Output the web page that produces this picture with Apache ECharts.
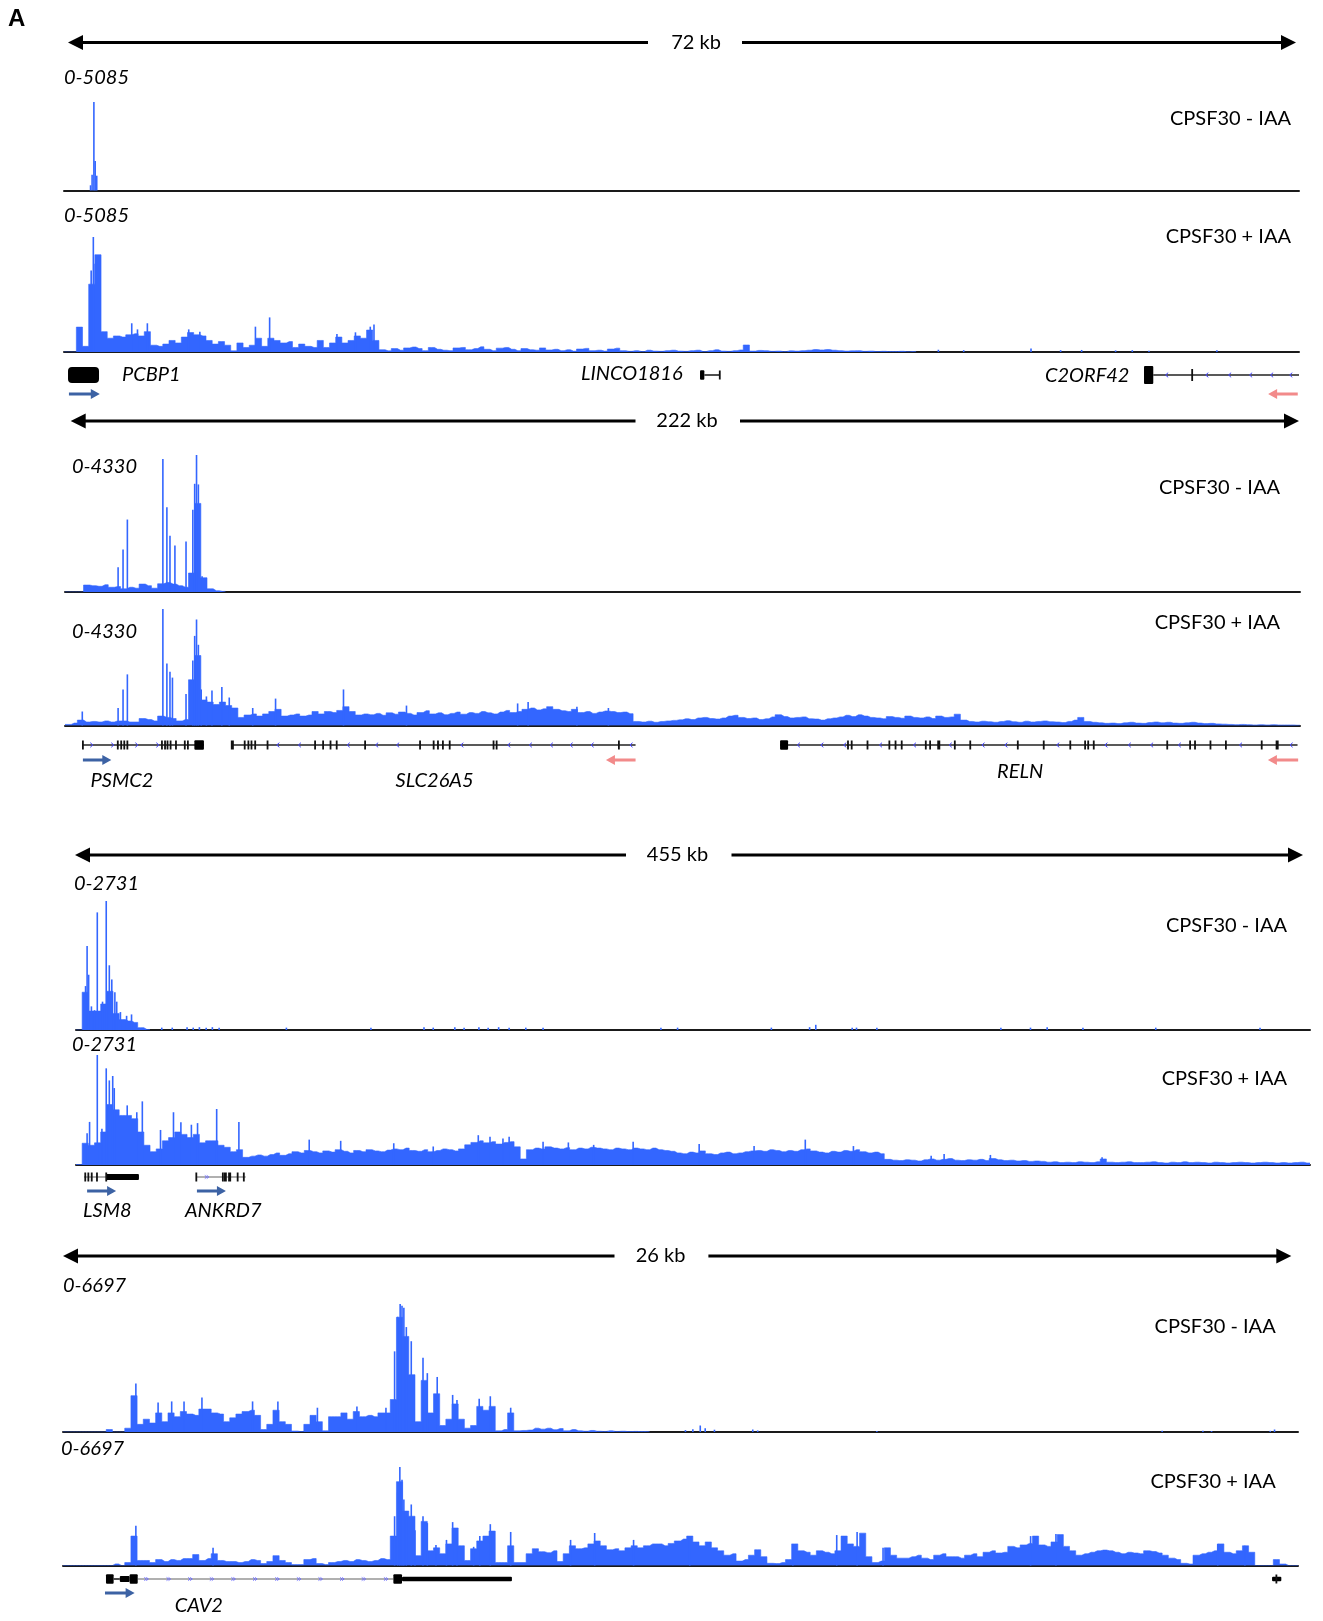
<!DOCTYPE html>
<html><head><meta charset="utf-8">
<script src="https://cdn.jsdelivr.net/npm/echarts@6/dist/echarts.min.js"></script>
<style>html,body{margin:0;padding:0;background:#fff;}#c{width:1323px;height:1621px;}</style>
</head><body><div id="c"></div>
<script>
// ---------- DATA ----------
const BINS = 200;                       // each window is split into 200 equal bins
const panelSpans = ['72 kb', '222 kb', '455 kb', '26 kb'];
const dataRanges = [5085, 4330, 2731, 6697];
const sampleNames = ['CPSF30 - IAA', 'CPSF30 + IAA'];

// Panel 1 (72 kb)
const t1Dense = [];
const t1Spikes = [[4.3,300],[4.55,900],[4.84,5085],[5.05,1700],[5.3,850]];
const t2Dense = [0,0,1100,250,3000,4300,900,610,710,660,760,810,710,900,300,250,350,510,400,660,860,760,710,510,350,460,300,50,400,200,300,610,250,610,510,400,460,200,350,250,200,510,200,400,660,400,510,710,610,970,510,
100,50,150,80,180,220,150,60,200,120,80,60,180,200,100,150,230,120,60,170,200,120,60,150,100,80,180,90,120,60,100,40,130,160,60,80,40,130,170,60,30,60,20,80,40,30,60,
80,40,30,60,80,20,60,100,40,30,60,90,310,40,70,60,30,40,20,50,40,60,80,110,90,110,80,60,40,50,60,30,40,20,30,20,20,30,10,20];
const t2Spikes = [[4.4,3600],[4.75,5085],[5.05,3900],[10.97,1270],[11.9,1000],[13.5,1270],[20.2,1000],[22,900],[31,1120],[33.3,1530],[44.2,800],[47.2,870],[49.6,1120],[50.2,1220],
[141.6,100],[145.7,80],[156.6,150],[161.4,80],[164.8,90],[170.3,70],[173,80],[175.7,60],[186.7,80]];

// Panel 2 (222 kb)
const t3Dense = [0,0,0,220,200,180,230,150,170,100,150,120,250,200,120,260,300,250,200,150,600,2800,450,100,40,20];
const t3Spikes = [[8.6,780],[9.4,1340],[10.1,2290],[15.85,4200],[16.5,2680],[17.0,1780],[17.8,1470],[19.6,1600],[20.7,2600],[21.0,3420],[21.3,4330],[21.6,3400],[22.2,500]];
const t4Dense = [40,90,200,130,150,130,170,130,170,170,
130,130,260,220,170,350,300,260,170,220,
1700,2600,950,870,780,870,740,650,300,390,
430,350,430,520,600,350,390,430,350,390,
520,430,520,480,560,700,520,390,430,400,
450,380,470,420,500,450,390,480,550,430,
470,400,450,500,420,480,450,520,470,430,
500,560,480,520,600,650,580,620,700,600,
550,520,600,480,520,450,500,540,520,480,
500,440,150,130,160,120,150,
170,190,210,250,220,280,300,260,240,280,350,380,300,260,280,220,250,320,400,330,280,300,320,250,240,200,250,280,320,380,330,400,350,300,280,250,330,300,270,350,300,280,320,260,350,300,320,420,200,
150,130,160,140,120,150,180,140,120,160,130,150,170,140,130,110,150,200,300,150,120,100,
80,90,70,100,120,90,80,110,130,100,120,90,80,100,120,90,70,80,60,50,
40,30,40,30,20,30,20,30,20,20,20,10];
const t4Spikes = [[2.8,520],[8.6,650],[9.4,1340],[10.1,1900],[15.85,4330],[16.5,2300],[17.0,2000],[17.4,1780],[19.6,1170],[20.7,2420],[21.0,3330],[21.3,3940],[21.6,3000],[22.06,1340],[22.9,1080],[23.8,1300],[25.4,1430],[26.6,1040],[30.4,650],[34.1,1000],[45.1,1340],[55.3,740],[73.3,820],[75,870],[82.9,700],[88,650]];

// Panel 3 (455 kb)
const t5Dense = [0,800,400,400,550,820,350,220,190,160,50,10];
const t5Spikes = [[1.55,930],[1.8,1780],[2.05,1170],[2.5,500],[3.0,420],[3.45,2490],[4.3,600],[4.9,2731],[5.4,1370],[5.8,1070],[6.3,800],[6.6,600],[7.2,380],[8.2,300],[9.0,330],
[13.9,50],[15.6,50],[18,60],[19,50],[20,60],[21.1,50],[22.1,60],[23.2,50],[34.1,50],[47.8,50],[56.4,60],[57.9,50],[61.4,60],[62.9,50],[65.3,60],[66.8,50],[68.5,60],[70.2,50],[72.9,50],[75.7,50],
[94.8,50],[97.5,50],[112.7,50],[118.9,60],[119.9,110],[125.8,50],[126.5,50],[129.8,50],[149.9,50],[154.7,50],[157.4,60],[163.2,50],[175,50],[191.9,50]];
const t6Dense = [10,540,490,550,820,1500,1370,1230,1230,1150,
820,490,330,400,600,680,820,760,680,760,
550,600,600,490,440,330,380,190,220,250,
220,260,300,240,280,330,300,360,330,300,
350,320,380,340,300,360,330,380,350,330,
370,400,380,420,360,340,380,330,360,400,
380,350,400,500,560,600,550,580,520,560,
580,450,150,380,420,400,450,420,400,430,
380,420,400,440,420,400,380,420,400,380,
420,400,380,420,380,360,340,
300,280,320,300,350,280,260,300,320,280,300,330,350,360,340,380,360,330,360,340,380,400,350,320,300,340,320,360,340,380,330,300,320,280,
140,120,110,130,120,100,130,150,120,140,160,120,110,130,120,140,110,160,130,110,120,100,110,90,100,90,
70,80,60,70,60,80,70,60,80,150,70,60,70,80,60,60,70,80,60,50,70,60,80,60,70,60,50,70,60,50,60,70,60,50,60,70,60,50,60,50,60,70,50];
const t6Spikes = [[1.8,790],[2.2,1070],[3.45,2731],[4.2,900],[4.9,2400],[5.4,2100],[5.95,2210],[6.2,1910],[8.3,1480],[9.85,1310],[10.75,1580],[13.7,870],[15.8,1310],[17.0,1060],[18.7,1000],[19.7,1040],[22.8,1390],[26.4,1070],[37.8,630],[42.9,600],[51.5,540],[57.9,460],[65.2,740],[67.1,700],[69.2,660],[70.2,700],[75.7,580],[79.8,560],[83.9,500],[90.3,580],[101,520],[109.9,470],[118.2,630],[126,470],[138.6,230],[140.7,270],[148.2,250],[166.3,190]];

// Panel 4 (26 kb)
const t7Dense = [0,0,0,0,0,0,0,130,0,0,
200,1900,400,670,470,1000,540,1000,800,1070,
940,870,1200,1200,1000,940,540,740,940,1070,
1140,870,130,400,1140,540,400,50,20,400,
870,540,60,800,800,1000,670,1070,800,870,
800,1000,1000,1700,6000,5000,3000,540,2700,1000,
2000,340,670,1470,670,200,340,1340,1140,1340,
60,130,1000,60,80,100,200,150,200,120,
180,60,130,60,40,80,40,30,60,30,40,20,30,20,20];
const t7Spikes = [[11.8,2540],[15.4,1540],[17.6,1600],[19.6,1600],[22.5,1800],[30.7,1600],[34.8,1600],[41.2,1270],[47.6,1340],[52.3,1270],
[53.7,4220],[54.2,6030],[54.6,6697],[54.9,6600],[55.2,6500],[55.6,5490],[56.4,4750],[58.3,3880],[59.0,3080],[60.6,2880],[63.1,1940],[63.8,1670],[67.4,1740],[69.2,1870],[72.5,1270],
[100.8,100],[102,150],[103.2,340],[104,200],[105.5,120],[111.7,130],[112.5,80],[131.8,50],[178,60],[184.6,60],[186,50],[195.5,60],[196.2,130]];
const t8Dense = [0,0,0,0,0,0,0,0,110,0,
200,2000,340,340,200,400,270,400,340,470,
470,740,340,470,800,340,270,270,200,270,
400,340,130,270,670,340,200,60,60,400,
470,130,60,200,270,340,270,400,340,270,
340,470,400,2000,5700,3700,3350,670,3000,1000,
1200,800,1470,2550,1340,340,1140,1670,2000,2340,
200,200,1340,200,200,800,1140,940,870,1000,
270,800,1340,1140,1200,1470,1670,1340,1070,1140,
1000,1200,1340,1200,1340,1470,1470,
1340,1500,1670,1800,2000,1600,1340,1600,1200,1000,700,800,300,400,700,1070,600,150,130,200,400,1470,1000,900,700,1000,900,800,1000,2000,1470,1300,2200,600,200,300,1200,700,500,500,
600,700,500,400,700,800,600,600,500,700,800,600,900,1000,850,900,1300,1200,1400,1500,2000,1400,1300,1600,2100,1300,1000,700,800,900,
1000,1050,1000,900,800,900,850,800,1000,950,850,700,500,400,150,100,700,800,900,1000,1470,900,800,1000,1340,900,0,0,0,400,100,0,0];
const t8Spikes = [[11.8,2700],[24.3,1200],[53.7,3350],[54.2,4960],[54.55,6697],[54.9,5830],[55.2,4490],[55.6,3350],[56.4,4150],[57,2400],[58.3,3350],[59,2880],[60.4,1400],[62.1,1740],[63.1,2950],[63.8,2210],[66.5,1270],[67.5,2000],[69.2,2810],[72.5,2280],[82.2,1740],[86.1,2210],[92.4,1740],
[101.5,2000],[118.2,1470],[125.3,2070],[128.6,2270],[132.8,1200],[156.7,2000],[160.8,2140],[187,1470],[191.4,1340]];

const trackDense = [t1Dense, t2Dense, t3Dense, t4Dense, t5Dense, t6Dense, t7Dense, t8Dense];
const trackSpikes = [t1Spikes, t2Spikes, t3Spikes, t4Spikes, t5Spikes, t6Spikes, t7Spikes, t8Spikes];

// gene models: [kind, startBin, endBin]
const genesP1 = [
 ['exonL',0.65,5.67],
 ['line',103.7,106.2],['exonM',103,103.7],['tick',106.2],
 ['line',176.4,200],['exonR',174.9,176.4],['tickL',182.7],
 ['chevL',178.6],['chevL',185.1],['chevL',188.8],['chevL',192.2],['chevL',195.6],['chevL',198.7],
 ['arrowR',0.8,5.8],['arrowL',195,199.8]
];
const genesP2 = [
 ['line',2.75,22.5],['line',26.96,92.4],['line',115.8,199.6],
 ['chevR',4.3],['chevR',7.7],['chevR',11.6],['chevR',15.0],
 ['tick',2.9],['tick',8.55],['tick',9.1],['tick',9.6],['tick',10.1],['tick',15.7],['tick',16.2],['tick',16.6],['tick',17.1],['tick',17.97],['tick',19.4],['tick',19.9],['exonM',20.95,22.5],
 ['chevL',34.5],['chevL',38],['chevL',45.9],['chevL',50.5],['chevL',53.9],['chevL',64.3],['chevL',71.9],['chevL',75.4],['chevL',78.8],['chevL',82],['chevL',85.4],['chevL',91.7],
 ['tickB',27.1],['tick',29.1],['tick',29.7],['tick',30.2],['tick',30.8],['tick',32.8],['tick',40.5],['tick',41.8],['tick',43.0],['tick',44.0],['tick',48.6],['tick',57.5],['tick',59.7],['tick',60.4],['tick',61.2],['tick',62.3],['tick',69.4],['tick',69.9],['tick',89.7],
 ['chevL',118.8],['chevL',122.6],['chevL',126.3],['chevL',132.1],['chevL',137.6],['chevL',143.4],['chevL',148.7],['chevL',152.4],['chevL',160.8],['chevL',168.6],['chevL',172.4],['chevL',176],['chevL',180.5],['chevL',190.4],['chevL',198.6],
 ['exonM',115.8,117.1],['tick',126.8],['tick',127.4],['tick',129.96],['tick',133.5],['tick',134.5],['tick',135.5],['tick',139.4],['tick',140.1],['tickB',141.5],['tick',144.1],['tick',146.6],['tick',154.3],['tick',158.5],['tick',162.8],['tick',165.2],['tick',165.7],['tick',166.6],['tick',178.5],['tick',182.2],['tick',183.0],['tick',185.5],['tick',188.0],['tick',193.8],['tickB',196.3],
 ['arrowR',2.9,7.5],['arrowL',87.6,92.4],['arrowL',194.8,199.7]
];
const genesP3 = [
 ['gline',1.3,10.2],['tick',1.5],['tick',2.0],['tick',2.55],['tick',3.4],['exonS',4.9,10.2],['tick',4.9],
 ['gline',19.5,27.5],['chevS',21.2],['tick',19.5],['tick',23.8],['tickB',24.2],['tickB',24.9],['tick',26.2],['tick',27.2],
 ['arrowR',1.8,6.5],['arrowR',19.6,24.3]
];
const genesP4 = [
 ['line',8.2,9.2],['gline',12.1,53.5],
 ['chevS',13.5],['chevS',17.1],['chevS',20.6],['chevS',24.1],['chevS',27.6],['chevS',31.1],['chevS',34.7],['chevS',38.2],['chevS',41.7],['chevS',45.2],['chevS',48.7],['chevS',52.3],
 ['exonM',6.96,8.2],['exonS',9.2,10.8],['exonM',10.8,12.1],['exonM',53.5,54.9],['exonT',54.9,72.7],
 ['exonT',195.8,197.3],['tick',196.5],
 ['arrowR',6.8,11.6]
];
const geneSets = [genesP1, genesP2, genesP3, genesP4];
const geneNames = [['PCBP1','LINCO1816','C2ORF42'],['PSMC2','SLC26A5','RELN'],['LSM8','ANKRD7'],['CAV2']];

// ---------- LAYOUT (pixels) ----------
const LAYOUT = [
 {left:64, right:1299, arrow:{y:42.5,l:68,lEnd:648,r:1296,rStart:742,tx:696},
  tracks:[{top:102,base:190.5,rx:64,ry:78,lx:1291,ly:119},{top:237,base:352,rx:64,ry:216,lx:1291,ly:237}],
  geneY:375, arrowDy:19, names:[[122,375],[581,374],[1045,376]]},
 {left:65, right:1300, arrow:{y:421,l:70.7,lEnd:635.5,r:1299,rStart:740,tx:687},
  tracks:[{top:455,base:592,rx:72,ry:466.7,lx:1280,ly:488},{top:609,base:725.5,rx:72,ry:631.7,lx:1280,ly:623}],
  geneY:745, arrowDy:15, names:[[90.5,781],[395.6,781],[997,772]]},
 {left:76, right:1310, arrow:{y:855,l:75,lEnd:626,r:1303,rStart:731.5,tx:677.5},
  tracks:[{top:901,base:1030,rx:74,ry:883.3,lx:1287,ly:926},{top:1055,base:1165,rx:72,ry:1044.3,lx:1287,ly:1079}],
  geneY:1177, arrowDy:14, names:[[83,1211],[185,1211]]},
 {left:63, right:1298, arrow:{y:1256,l:63,lEnd:614.5,r:1291.3,rStart:708.4,tx:660.5},
  tracks:[{top:1304,base:1432,rx:63,ry:1285.7,lx:1275.7,ly:1327},{top:1467,base:1565.5,rx:61,ry:1448.3,lx:1275.7,ly:1481.7}],
  geneY:1579, arrowDy:14, names:[[174.7,1605.7]]}
];

const BLUE = '#3366FF';
const KIND_H = {exonL:16, exonR:18, exonM:9.5, exonS:6, exonT:4.5, tick:9, tickL:12, tickB:9};
const FONT = 'Lato, "Open Sans", sans-serif';

function txt(text, x, y, opts) {
  opts = opts || {};
  return {type:'text', x:x, y:y, silent:true, z:10, style:{
    text:text, font:(opts.font || ('20px ' + FONT)), fill:'#000',
    align:opts.align||'left', verticalAlign:'middle',
    textAlign:opts.align||'left', textVerticalAlign:'middle'}};
}

function makeGeneRender(items, arrowDy) {
  return function (params, api) {
    const it = items[params.dataIndex];
    const k = it[0];
    const cs = params.coordSys;
    const y = cs.y + cs.height / 2;
    const x1 = api.coord([it[1], 0.5])[0];
    const x2 = it.length > 2 ? api.coord([it[2], 0.5])[0] : x1;
    if (k === 'line') return {type:'rect', shape:{x:x1, y:y-0.8, width:x2-x1, height:1.6}, style:{fill:'#222'}};
    if (k === 'gline') return {type:'rect', shape:{x:x1, y:y-0.9, width:x2-x1, height:1.8}, style:{fill:'#b0b0b0'}};
    if (k.indexOf('tick') === 0) {
      const h = KIND_H[k], w = k === 'tickB' ? 3 : 1.8;
      return {type:'rect', shape:{x:x1-w/2, y:y-h/2, width:w, height:h}, style:{fill:'#111'}};
    }
    if (k.indexOf('exon') === 0) {
      const h = KIND_H[k];
      return {type:'rect', shape:{x:x1, y:y-h/2, width:Math.max(x2-x1, 2), height:h, r:(k==='exonL'?4:1)}, style:{fill:'#000'}};
    }
    if (k === 'chevL' || k === 'chevR') {
      const d = k === 'chevL' ? -1 : 1;
      return {type:'polyline', shape:{points:[[x1-1.3*d, y-2.3],[x1+1.3*d, y],[x1-1.3*d, y+2.3]]}, style:{stroke:'#4545ff', lineWidth:1, fill:null}};
    }
    if (k === 'chevS') {
      return {type:'group', children:[
        {type:'polyline', shape:{points:[[x1-2, y-1.6],[x1, y],[x1-2, y+1.6]]}, style:{stroke:'#6a6aff', lineWidth:0.9, fill:null}},
        {type:'polyline', shape:{points:[[x1, y-1.6],[x1+2, y],[x1, y+1.6]]}, style:{stroke:'#6a6aff', lineWidth:0.9, fill:null}}]};
    }
    if (k === 'arrowR' || k === 'arrowL') {
      const col = k === 'arrowR' ? '#3c62a4' : '#f28a8a';
      const ay = y + arrowDy, head = 9, hw = 5, sw = 1.6;
      let pts;
      if (k === 'arrowR') pts = [[x1,ay-sw],[x2-head,ay-sw],[x2-head,ay-hw],[x2,ay],[x2-head,ay+hw],[x2-head,ay+sw],[x1,ay+sw]];
      else pts = [[x2,ay-sw],[x1+head,ay-sw],[x1+head,ay-hw],[x1,ay],[x1+head,ay+hw],[x1+head,ay+sw],[x2,ay+sw]];
      return {type:'polygon', shape:{points:pts}, style:{fill:col}};
    }
    return null;
  };
}

const grids = [], xAxes = [], yAxes = [], series = [], graphics = [];
graphics.push(txt('A', 8, 19, {font:'bold 24px "Liberation Sans", Arial, sans-serif'}));

LAYOUT.forEach(function (P, p) {
  const width = P.right - P.left;
  const A = P.arrow;
  graphics.push({type:'line', silent:true, shape:{x1:A.l+10, y1:A.y, x2:A.lEnd, y2:A.y}, style:{stroke:'#000', lineWidth:3}});
  graphics.push({type:'line', silent:true, shape:{x1:A.rStart, y1:A.y, x2:A.r-10, y2:A.y}, style:{stroke:'#000', lineWidth:3}});
  graphics.push({type:'polygon', silent:true, shape:{points:[[A.l, A.y],[A.l+15, A.y-7.5],[A.l+15, A.y+7.5]]}, style:{fill:'#000'}});
  graphics.push({type:'polygon', silent:true, shape:{points:[[A.r, A.y],[A.r-15, A.y-7.5],[A.r-15, A.y+7.5]]}, style:{fill:'#000'}});
  graphics.push(txt(panelSpans[p], A.tx, A.y, {align:'center'}));

  P.tracks.forEach(function (T, j) {
    const ti = p * 2 + j;
    const gi = grids.length;
    grids.push({left:P.left, top:T.top, width:width, height:T.base - T.top});
    xAxes.push({gridIndex:gi, type:'value', min:0, max:BINS, show:true,
      axisLine:{show:true, onZero:false, lineStyle:{color:'#1a1a1a', width:2}},
      axisTick:{show:false}, axisLabel:{show:false}, splitLine:{show:false}});
    yAxes.push({gridIndex:gi, type:'value', min:0, max:dataRanges[p], show:false, splitLine:{show:false}});
    const dense = trackDense[ti];
    if (dense.length) {
      const pts = [[0, dense[0]]];
      dense.forEach(function (v, i) { pts.push([i + 0.5, v]); });
      pts.push([dense.length, dense[dense.length - 1]]);
      series.push({type:'line', xAxisIndex:gi, yAxisIndex:gi, data:pts, step:'middle', symbol:'none',
        lineStyle:{width:0.6, color:BLUE}, areaStyle:{color:BLUE, opacity:1}, silent:true, z:2});
    }
    series.push({type:'bar', xAxisIndex:gi, yAxisIndex:gi, data:trackSpikes[ti], barWidth:1.6,
      itemStyle:{color:BLUE}, silent:true, z:3});
    graphics.push(txt('0-' + dataRanges[p], T.rx, T.ry, {font:'italic 20px ' + FONT}));
    graphics.push(txt(sampleNames[j], T.lx, T.ly, {align:'right'}));
  });

  const gi = grids.length;
  grids.push({left:P.left, top:P.geneY - 10, width:width, height:20});
  xAxes.push({gridIndex:gi, type:'value', min:0, max:BINS, show:false});
  yAxes.push({gridIndex:gi, type:'value', min:0, max:1, show:false});
  const items = geneSets[p];
  series.push({type:'custom', coordinateSystem:'cartesian2d', xAxisIndex:gi, yAxisIndex:gi, silent:true, z:4,
    data:items.map(function (it) { return [it[1], it.length > 2 ? it[2] : it[1]]; }),
    renderItem:makeGeneRender(items, P.arrowDy)});
  geneNames[p].forEach(function (nm, k) {
    graphics.push(txt(nm, P.names[k][0], P.names[k][1], {font:'italic 20px ' + FONT}));
  });
});

const chart = echarts.init(document.getElementById('c'), null, {renderer:'canvas', width:1323, height:1621, devicePixelRatio:1});
chart.setOption({
  animation:false,
  backgroundColor:'#fff',
  grid:grids, xAxis:xAxes, yAxis:yAxes, series:series, graphic:graphics
});
</script>
</body></html>
